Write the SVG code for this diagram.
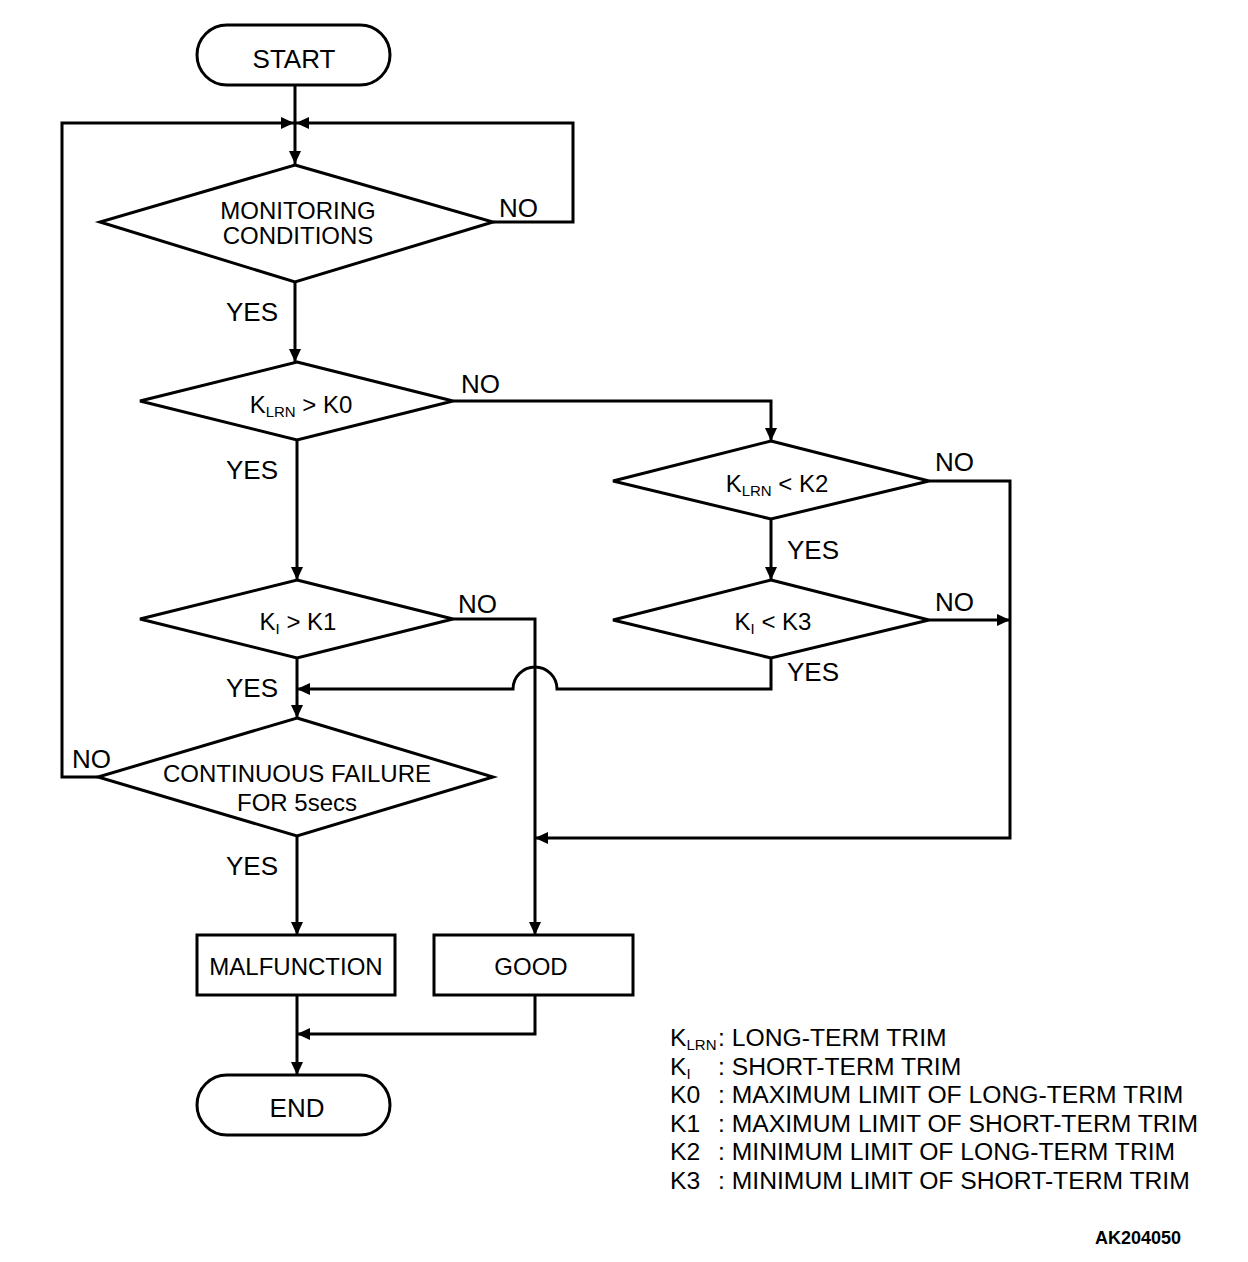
<svg xmlns="http://www.w3.org/2000/svg" width="1248" height="1262" viewBox="0 0 1248 1262">
<defs>
<marker id="ah" markerUnits="userSpaceOnUse" markerWidth="13" markerHeight="12" refX="13" refY="6" orient="auto">
<path d="M0,0 L13,6 L0,12 z" fill="#000"/>
</marker>
<style>
.s{fill:#fff;stroke:#000;stroke-width:3}
.c{fill:none;stroke:#000;stroke-width:3;marker-end:url(#ah)}
.l{fill:none;stroke:#000;stroke-width:3}
text{font-family:"Liberation Sans",Arial,sans-serif;fill:#000}
.t{font-size:24px;text-anchor:middle}
.b{font-size:26px;text-anchor:middle}
.y{font-size:26px}
.g{font-size:24.7px}
.sub{font-size:15px}
</style>
</defs>
<rect width="1248" height="1262" fill="#fff"/>
<g id="connectors">
<path class="c" d="M295,86 L295,164"/>
<path class="c" d="M98,777 L62,777 L62,123 L294,123"/>
<path class="c" d="M493,222 L573,222 L573,123 L296,123"/>
<path class="c" d="M295,282 L295,362"/>
<path class="c" d="M453,401 L771,401 L771,441"/>
<path class="c" d="M297,440 L297,580"/>
<path class="c" d="M453,619 L535,619 L535,935"/>
<path class="c" d="M771,658 L771,689 L557,689 A22,22 0 0,0 513,689 L297,689"/>
<path class="c" d="M297,658 L297,718"/>
<path class="c" d="M929,481 L1010,481 L1010,838 L535,838"/>
<path class="c" d="M771,519 L771,580"/>
<path class="c" d="M929,620 L1010,620"/>
<path class="c" d="M297,836 L297,935"/>
<path class="c" d="M535,995 L535,1034 L297,1034"/>
<path class="c" d="M297,995 L297,1075"/>
</g>
<g id="start">
<rect class="s" x="197" y="25" width="193" height="60" rx="30"/>
<text class="b" x="294" y="68">START</text>
</g>
<g id="monitoring">
<polygon class="s" points="295,165 493,222 295,282 100,222"/>
<text class="t" x="298" y="219">MONITORING</text>
<text class="t" x="298" y="244">CONDITIONS</text>
</g>
<g id="klrn-k0">
<polygon class="s" points="297,362 453,401 297,440 140,401"/>
<text class="t" x="301" y="413">K<tspan class="sub" dy="4">LRN</tspan><tspan dy="-4"> &gt; K0</tspan></text>
</g>
<g id="ki-k1">
<polygon class="s" points="297,580 453,619 297,658 140,619"/>
<text class="t" x="298" y="630">K<tspan class="sub" dy="4">I</tspan><tspan dy="-4"> &gt; K1</tspan></text>
</g>
<g id="klrn-k2">
<polygon class="s" points="771,441 929,481 771,519 613,481"/>
<text class="t" x="777" y="492">K<tspan class="sub" dy="4">LRN</tspan><tspan dy="-4"> &lt; K2</tspan></text>
</g>
<g id="ki-k3">
<polygon class="s" points="771,580 929,620 771,658 613,620"/>
<text class="t" x="773" y="630">K<tspan class="sub" dy="4">I</tspan><tspan dy="-4"> &lt; K3</tspan></text>
</g>
<g id="continuous">
<polygon class="s" points="297,718 493,777 297,836 98,777"/>
<text class="t" x="297" y="782">CONTINUOUS FAILURE</text>
<text class="t" x="297" y="811">FOR 5secs</text>
</g>
<g id="malfunction">
<rect class="s" x="197" y="935" width="198" height="60"/>
<text class="t" x="296" y="975">MALFUNCTION</text>
</g>
<g id="good">
<rect class="s" x="434" y="935" width="199" height="60"/>
<text class="t" x="531" y="975">GOOD</text>
</g>
<g id="end">
<rect class="s" x="197" y="1075" width="193" height="60" rx="30"/>
<text class="b" x="297" y="1117">END</text>
</g>
<g id="labels">
<text class="y" x="499" y="217">NO</text>
<text class="y" x="226" y="321">YES</text>
<text class="y" x="461" y="393">NO</text>
<text class="y" x="226" y="479">YES</text>
<text class="y" x="935" y="471">NO</text>
<text class="y" x="787" y="559">YES</text>
<text class="y" x="458" y="613">NO</text>
<text class="y" x="935" y="611">NO</text>
<text class="y" x="787" y="681">YES</text>
<text class="y" x="226" y="697">YES</text>
<text class="y" x="72" y="768">NO</text>
<text class="y" x="226" y="875">YES</text>
</g>
<g id="legend">
<text class="g" x="670" y="1046">K<tspan class="sub" dy="4">LRN</tspan></text>
<text class="g" x="718" y="1046">: LONG-TERM TRIM</text>
<text class="g" x="670" y="1075">K<tspan class="sub" dy="4">I</tspan></text>
<text class="g" x="718" y="1075">: SHORT-TERM TRIM</text>
<text class="g" x="670" y="1103">K0</text>
<text class="g" x="718" y="1103">: MAXIMUM LIMIT OF LONG-TERM TRIM</text>
<text class="g" x="670" y="1132">K1</text>
<text class="g" x="718" y="1132">: MAXIMUM LIMIT OF SHORT-TERM TRIM</text>
<text class="g" x="670" y="1160">K2</text>
<text class="g" x="718" y="1160">: MINIMUM LIMIT OF LONG-TERM TRIM</text>
<text class="g" x="670" y="1189">K3</text>
<text class="g" x="718" y="1189">: MINIMUM LIMIT OF SHORT-TERM TRIM</text>
<text x="1181" y="1244" font-size="18" font-weight="bold" text-anchor="end">AK204050</text>
</g>
</svg>
